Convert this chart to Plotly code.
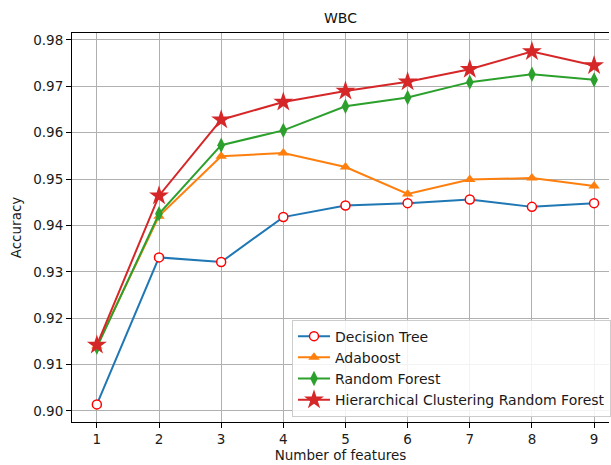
import plotly.graph_objects as go

features = [1, 2, 3, 4, 5, 6, 7, 8, 9]
decision_tree = [0.9014, 0.9331, 0.9321, 0.9418, 0.9443, 0.9448, 0.9456, 0.9440, 0.9448]
adaboost = [0.9140, 0.9420, 0.9549, 0.9556, 0.9526, 0.9468, 0.9499, 0.9502, 0.9485]
random_forest = [0.9137, 0.9425, 0.9573, 0.9605, 0.9657, 0.9676, 0.9709, 0.9726, 0.9714]
hcrf = [0.9142, 0.9464, 0.9628, 0.9666, 0.9690, 0.9710, 0.9737, 0.9775, 0.9745]
y_ticks = [0.90, 0.91, 0.92, 0.93, 0.94, 0.95, 0.96, 0.97, 0.98]

fig = go.Figure()
fig.add_trace(go.Scatter(
    x=features, y=decision_tree, name="Decision Tree", mode="lines+markers",
    line=dict(color="#1f77b4", width=2),
    marker=dict(symbol="circle", size=9, color="white", line=dict(color="#ff0000", width=1.5))))
fig.add_trace(go.Scatter(
    x=features, y=adaboost, name="Adaboost", mode="lines+markers",
    line=dict(color="#ff7f0e", width=2),
    marker=dict(symbol="triangle-up", size=10, color="#ff7f0e")))
fig.add_trace(go.Scatter(
    x=features, y=random_forest, name="Random Forest", mode="lines+markers",
    line=dict(color="#2ca02c", width=2),
    marker=dict(symbol="diamond-tall", size=11, color="#2ca02c")))
fig.add_trace(go.Scatter(
    x=features, y=hcrf, name="Hierarchical Clustering Random Forest", mode="lines+markers",
    line=dict(color="#d62728", width=2),
    marker=dict(symbol="star", size=15, color="#d62728")))

fig.update_layout(
    width=611, height=465,
    margin=dict(l=72, r=0, t=33, b=43),
    paper_bgcolor="white", plot_bgcolor="white",
    font=dict(family="DejaVu Sans", size=13.5, color="#1a1a1a"),
    title=dict(text="WBC", x=0.5, xref="paper", y=1 - 18 / 465, yanchor="middle",
               font=dict(size=14, color="#111")),
    showlegend=True,
    legend=dict(x=0.41, y=0.014, xanchor="left", yanchor="bottom",
                bgcolor="rgba(255,255,255,0.85)", bordercolor="#cccccc", borderwidth=1,
                font=dict(size=14, color="#1a1a1a"), itemwidth=32),
)
fig.update_xaxes(
    range=[0.6, 9.24], tickvals=features, showgrid=True, gridcolor="#b0b0b0", gridwidth=1,
    showline=True, linecolor="black", linewidth=1, mirror=True,
    ticks="outside", ticklen=5, tickcolor="black", zeroline=False,
    title=dict(text="Number of features", standoff=4, font=dict(size=13.5)))
fig.update_yaxes(
    range=[0.8976, 0.9815], tickvals=y_ticks, tickformat=".2f",
    showgrid=True, gridcolor="#b0b0b0", gridwidth=1,
    showline=True, linecolor="black", linewidth=1, mirror=False,
    ticks="outside", ticklen=5, tickcolor="black", zeroline=False,
    title=dict(text="Accuracy", standoff=8, font=dict(size=13.5)))

fig.write_html("out.html", config={"displayModeBar": False},
               post_script="document.body.style.margin='0';document.body.style.overflow='hidden';")
